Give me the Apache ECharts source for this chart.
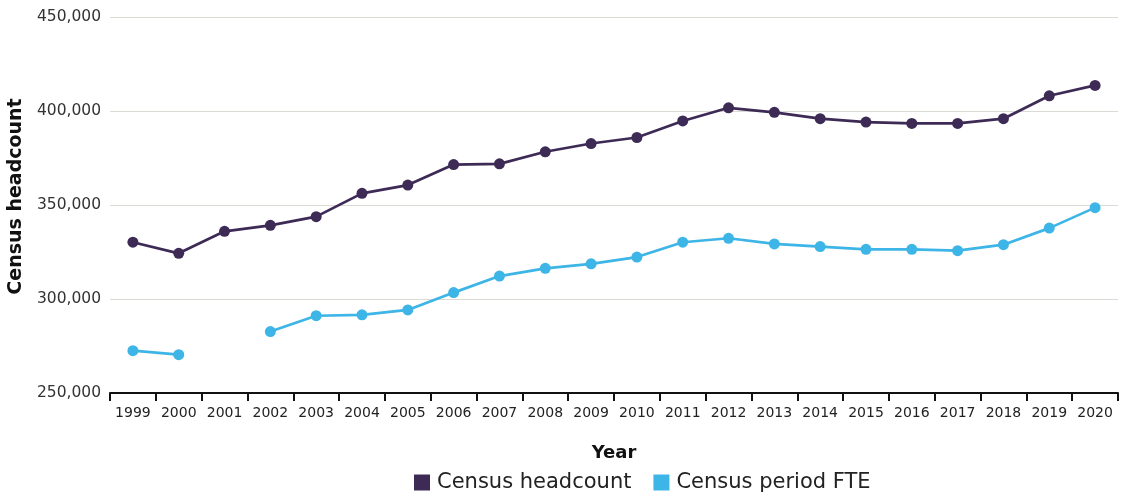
<!DOCTYPE html>
<html>
<head>
<meta charset="utf-8">
<script src="https://cdn.jsdelivr.net/npm/echarts@6/dist/echarts.min.js"></script>
<style>
html,body{margin:0;padding:0;background:#fff;}
#chart{width:1126px;height:495px;}
</style>
</head>
<body>
<div id="chart"></div>
<script>
const years = ['1999','2000','2001','2002','2003','2004','2005','2006','2007','2008','2009','2010','2011','2012','2013','2014','2015','2016','2017','2018','2019','2020'];
const headcount = [330200, 324300, 336000, 339200, 343800, 356200, 360600, 371500, 371900, 378300, 382700, 385900, 394700, 401700, 399300, 395900, 394100, 393400, 393400, 395900, 408100, 413600];
const fte = [272500, 270400, null, 282700, 291100, 291600, 294200, 303400, 312200, 316300, 318700, 322300, 330200, 332300, 329300, 327900, 326400, 326400, 325700, 328900, 337700, 348600];
const yTicks = { min: 250000, max: 450000, interval: 50000 };

const FONT = '"DejaVu Sans", sans-serif';
const chart = echarts.init(document.getElementById('chart'));
chart.setOption({
  animation: false,
  textStyle: { fontFamily: FONT },
  grid: { left: 110, right: 8, top: 17, bottom: 102, containLabel: false, outerBoundsMode: 'none' },
  legend: {
    top: 467, left: 409,
    itemWidth: 16, itemHeight: 16, itemGap: 22,
    icon: 'rect',
    textStyle: { fontSize: 21, color: '#222', fontFamily: FONT, padding: [0, 0, 0, 2] },
    data: ['Census headcount', 'Census period FTE']
  },
  xAxis: {
    type: 'category', data: years, boundaryGap: true,
    name: 'Year', nameLocation: 'middle', nameGap: 51,
    nameTextStyle: { fontSize: 18, fontWeight: 'bold', color: '#111', fontFamily: FONT },
    axisLine: { lineStyle: { color: '#111', width: 2 } },
    axisTick: { show: true, length: 8, lineStyle: { color: '#111', width: 2 } },
    axisLabel: { fontSize: 14, color: '#222', margin: 13, interval: 0, fontFamily: FONT }
  },
  yAxis: {
    type: 'value', min: yTicks.min, max: yTicks.max, interval: yTicks.interval,
    name: 'Census headcount', nameLocation: 'middle', nameGap: 82, nameRotate: 90,
    nameTextStyle: { fontSize: 19, fontWeight: 'bold', color: '#111', fontFamily: FONT, padding: [0, 0, 0, 17] },
    axisLine: { show: false }, axisTick: { show: false },
    axisLabel: { fontSize: 15.5, color: '#333', margin: 9, fontFamily: FONT,
      formatter: v => v.toLocaleString('en-US') },
    splitLine: { lineStyle: { color: '#dcdad5', width: 1 } }
  },
  series: [
    { name: 'Census headcount', type: 'line', data: headcount,
      symbol: 'circle', symbolSize: 11,
      itemStyle: { color: '#3d2b56' }, lineStyle: { color: '#3d2b56', width: 2.7 } },
    { name: 'Census period FTE', type: 'line', data: fte, connectNulls: false,
      symbol: 'circle', symbolSize: 11,
      itemStyle: { color: '#3db5e6' }, lineStyle: { color: '#3db5e6', width: 2.7 } }
  ]
});
</script>
</body>
</html>
